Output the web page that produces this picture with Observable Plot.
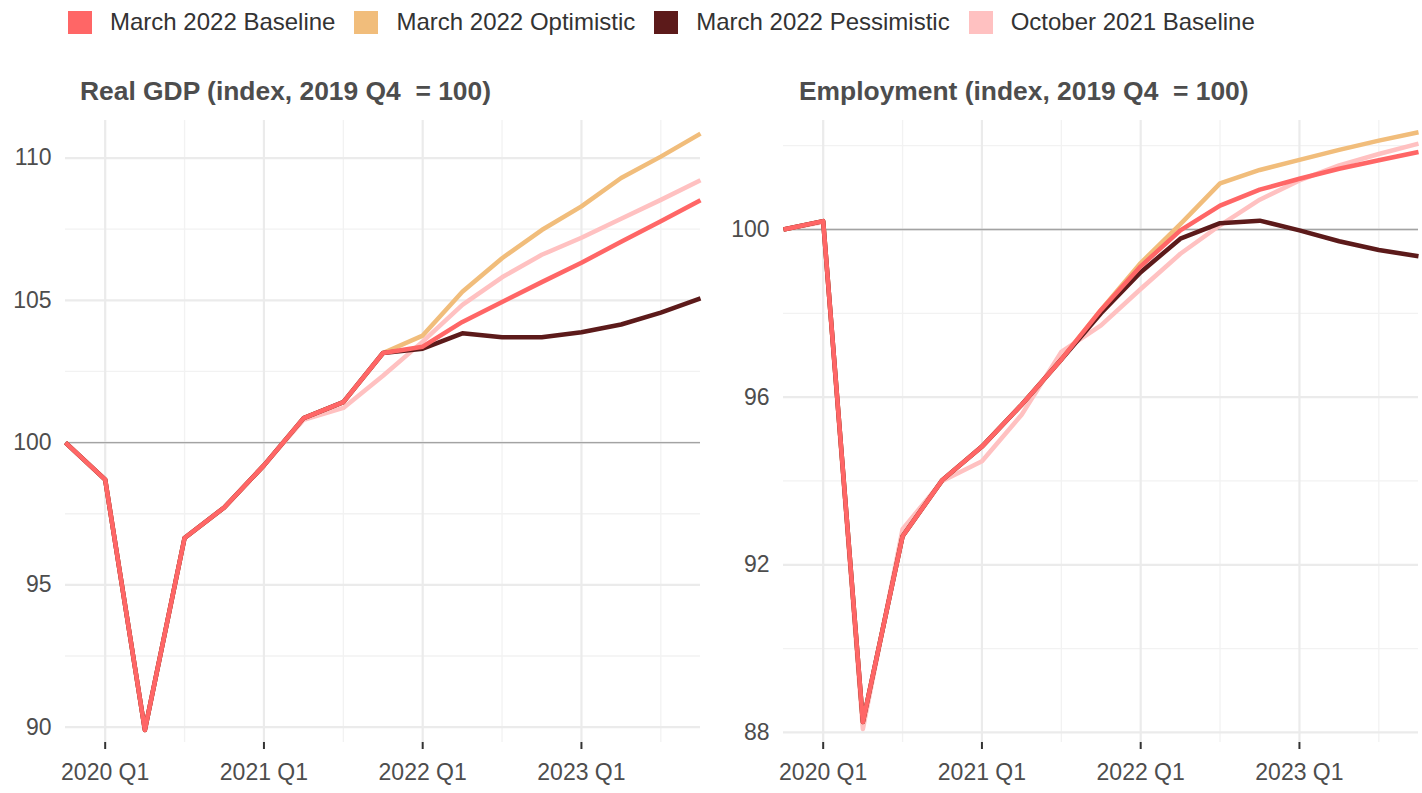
<!DOCTYPE html>
<html>
<head>
<meta charset="utf-8">
<script src="https://cdn.jsdelivr.net/npm/d3@7"></script>
<script src="https://cdn.jsdelivr.net/npm/@observablehq/plot@0.6"></script>
<style>
  html, body { margin: 0; padding: 0; background: #fff; }
  body { width: 1422px; height: 793px; position: relative; overflow: hidden;
         font-family: "Liberation Sans", Arial, Helvetica, sans-serif; }
  #legend { position: absolute; left: 68px; top: 10px; display: flex; align-items: center; }
  .item { display: flex; align-items: center; margin-right: 19px; }
  .sw { width: 24px; height: 23px; margin-right: 18px; }
  .lab { font-size: 24px; line-height: 24px; color: #333; white-space: pre; }
  .title { position: absolute; top: 78px; font-size: 26.4px; line-height: 26px; font-weight: bold;
           color: #4d4d4d; white-space: pre; }
  .panel { position: absolute; top: 110px; }
</style>
</head>
<body>
<div id="legend"></div>
<div class="title" style="left:80px">Real GDP (index, 2019 Q4  = 100)</div>
<div class="title" style="left:799px">Employment (index, 2019 Q4  = 100)</div>
<div id="left" class="panel" style="left:0px"></div>
<div id="right" class="panel" style="left:711px"></div>
<script>
const quarters = ["2019 Q4","2020 Q1","2020 Q2","2020 Q3","2020 Q4","2021 Q1","2021 Q2","2021 Q3","2021 Q4",
                  "2022 Q1","2022 Q2","2022 Q3","2022 Q4","2023 Q1","2023 Q2","2023 Q3","2023 Q4"];
const xTickLabels = ["2020 Q1","2021 Q1","2022 Q1","2023 Q1"];
const xMinorGrid = ["2020 Q3","2021 Q3","2022 Q3","2023 Q3"];

const seriesNames = ["March 2022 Baseline","March 2022 Optimistic","March 2022 Pessimistic","October 2021 Baseline"];
const seriesColors = ["#FF6666","#F1BD7B","#5C1A1A","#FFC1C1"];

// Real GDP (index, 2019 Q4 = 100)
const gdpBaseline    = [100, 98.7, 89.9, 96.65, 97.72, 99.2, 100.86, 101.42, 103.15, 103.37, 104.24, 104.94, 105.64, 106.32, 107.06, 107.78, 108.52];
const gdpOptimistic  = [100, 98.7, 89.9, 96.65, 97.72, 99.2, 100.86, 101.42, 103.15, 103.76, 105.3, 106.48, 107.47, 108.3, 109.3, 110.05, 110.86];
const gdpPessimistic = [100, 98.7, 89.9, 96.65, 97.72, 99.2, 100.86, 101.42, 103.15, 103.3, 103.84, 103.7, 103.7, 103.88, 104.15, 104.57, 105.07];
const gdpOct2021     = [100, 98.7, 89.9, 96.65, 97.72, 99.2, 100.8, 101.22, 102.35, 103.55, 104.84, 105.81, 106.6, 107.2, 107.87, 108.53, 109.22];
const gdpYTicks = [90, 95, 100, 105, 110];
const gdpYMinor = [92.5, 97.5, 102.5, 107.5];

// Employment (index, 2019 Q4 = 100)
const empBaseline    = [100, 100.2, 88.25, 92.68, 94.02, 94.82, 95.82, 96.9, 98.08, 99.12, 99.98, 100.57, 100.95, 101.21, 101.45, 101.65, 101.85];
const empOptimistic  = [100, 100.2, 88.25, 92.68, 94.02, 94.82, 95.82, 96.9, 98.08, 99.2, 100.13, 101.1, 101.42, 101.66, 101.9, 102.12, 102.32];
const empPessimistic = [100, 100.2, 88.25, 92.68, 94.02, 94.82, 95.82, 96.9, 98.0, 98.98, 99.78, 100.15, 100.21, 99.98, 99.72, 99.51, 99.36];
const empOct2021     = [100, 100.18, 88.08, 92.85, 94.0, 94.47, 95.58, 97.08, 97.71, 98.58, 99.42, 100.1, 100.71, 101.17, 101.53, 101.8, 102.05];
const empYTicks = [88, 92, 96, 100];
const empYMinor = [90, 94, 98, 102];

// legend
const legend = document.getElementById("legend");
seriesNames.forEach((n, i) => {
  const it = document.createElement("div"); it.className = "item";
  const sw = document.createElement("div"); sw.className = "sw"; sw.style.background = seriesColors[i];
  const lb = document.createElement("div"); lb.className = "lab"; lb.textContent = n;
  it.appendChild(sw); it.appendChild(lb); legend.appendChild(it);
});

function toRows(name, values) {
  return values.map((v, i) => ({quarter: quarters[i], value: v, series: name}));
}

function panel(series, yDomain, yTicks, yMinor, marginLeft, marginRight) {
  // draw order: October, Optimistic, Pessimistic, Baseline (on top)
  const order = [3, 1, 2, 0];
  const lines = order.map(i => Plot.line(toRows(seriesNames[i], series[i]), {
    x: "quarter", y: "value", stroke: seriesColors[i], strokeWidth: 4.5,
    strokeLinejoin: "round", strokeLinecap: "butt"
  }));
  return Plot.plot({
    width: 711,
    height: 683,
    marginTop: 10,
    marginBottom: 51,
    marginLeft,
    marginRight,
    style: {fontFamily: "'Liberation Sans', Arial, sans-serif", fontSize: "23px", color: "#4d4d4d", background: "#fff", overflow: "visible"},
    x: {type: "point", domain: quarters, padding: 0, round: false},
    y: {domain: yDomain},
    marks: [
      Plot.gridY(yMinor, {stroke: "#f2f2f2", strokeOpacity: 1, strokeWidth: 1.3}),
      Plot.gridX(xMinorGrid, {stroke: "#f2f2f2", strokeOpacity: 1, strokeWidth: 1.3}),
      Plot.gridY(yTicks, {stroke: "#ebebeb", strokeOpacity: 1, strokeWidth: 2.2}),
      Plot.gridX(xTickLabels, {stroke: "#ebebeb", strokeOpacity: 1, strokeWidth: 2.2}),
      Plot.ruleY([100], {stroke: "#a3a3a3", strokeWidth: 1.3}),
      ...lines,
      Plot.axisY(yTicks, {tickSize: 0, tickPadding: 14, label: null, fill: "#4d4d4d", fontSize: 23}),
      Plot.axisX(xTickLabels, {tickSize: 7, tickPadding: 14, label: null, stroke: "#333", strokeWidth: 2, fill: "#4d4d4d", fontSize: 23})
    ]
  });
}

document.getElementById("left").appendChild(
  panel([gdpBaseline, gdpOptimistic, gdpPessimistic, gdpOct2021], [89.46, 111.32], gdpYTicks, gdpYMinor, 65, 11));
document.getElementById("right").appendChild(
  panel([empBaseline, empOptimistic, empPessimistic, empOct2021], [87.76, 102.6], empYTicks, empYMinor, 72, 4));
</script>
</body>
</html>
